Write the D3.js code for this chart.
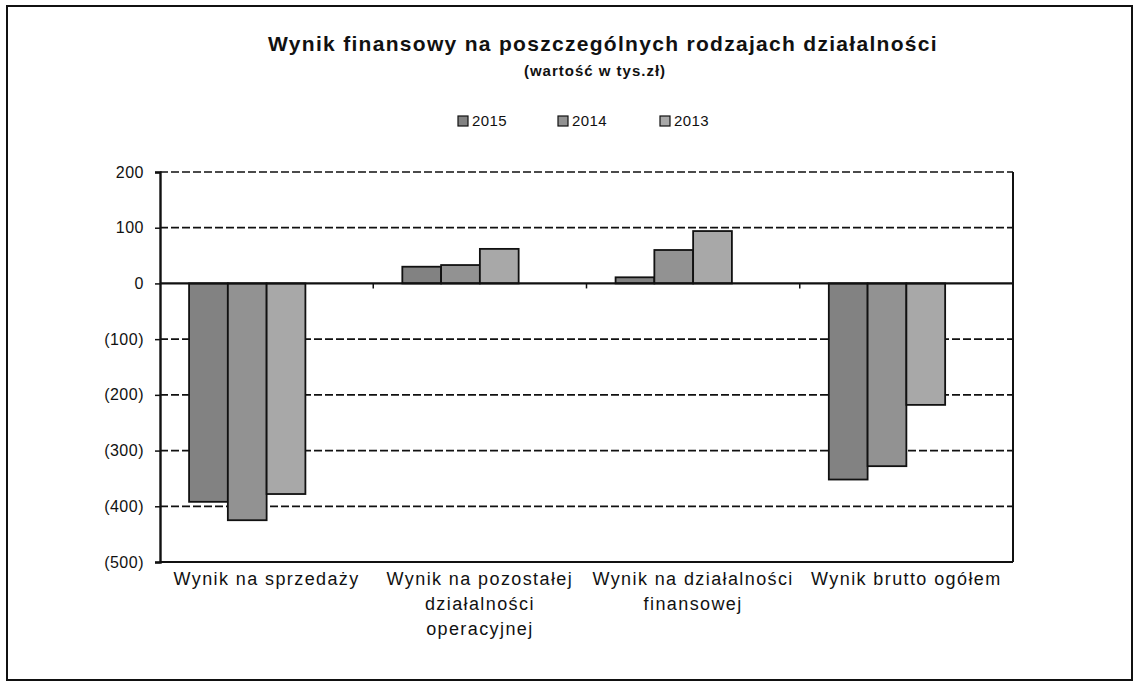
<!DOCTYPE html>
<html>
<head>
<meta charset="utf-8">
<script src="https://cdn.jsdelivr.net/npm/d3@7"></script>
<style>
  html, body { margin: 0; padding: 0; background: #fff; }
  svg { display: block; font-family: "Liberation Sans", Arial, sans-serif; }
</style>
</head>
<body>
<svg id="chart" width="1133" height="682"></svg>
<script>
// ---- data ----
const categories = [
  "Wynik na sprzedaży",
  "Wynik na pozostałej\ndziałalności\noperacyjnej",
  "Wynik na działalności\nfinansowej",
  "Wynik brutto ogółem"
];
const seriesNames = ["2015", "2014", "2013"];
const values2015 = [-392, 30, 11, -352];
const values2014 = [-425, 33, 60, -328];
const values2013 = [-378, 62, 94, -218];
const yTicks = [200, 100, 0, -100, -200, -300, -400, -500];
const titleText = "Wynik finansowy na poszczególnych rodzajach działalności";
const subtitleText = "(wartość w tys.zł)";

const seriesValues = [values2015, values2014, values2013];
const seriesColors = ["#828282", "#929292", "#a8a8a8"];

// ---- layout ----
const svg = d3.select("#chart");
const plot = { left: 160, right: 1013, top: 172, bottom: 562 };

// outer frame
svg.append("rect")
  .attr("x", 7).attr("y", 6).attr("width", 1125).attr("height", 674)
  .attr("fill", "none").attr("stroke", "#111").attr("stroke-width", 2);

// scales
const x0 = d3.scaleBand().domain(categories).range([plot.left, plot.right]).padding(0);
// four slots per category (the fourth series slot is empty in the original)
const x1 = d3.scaleBand().domain([0, 1, 2, 3]).range([0, x0.bandwidth()])
  .paddingInner(0).paddingOuter(0.75);
const y = d3.scaleLinear().domain([-500, 200]).range([plot.bottom, plot.top]);

// gridlines (dashed)
svg.append("g").selectAll("line")
  .data(yTicks.filter(v => v !== 0 && v !== -500))
  .join("line")
  .attr("x1", plot.left).attr("x2", plot.right)
  .attr("y1", d => y(d)).attr("y2", d => y(d))
  .attr("stroke", "#111").attr("stroke-width", 1.7)
  .attr("stroke-dasharray", "8,3");

// right and bottom border of plot area
svg.append("line").attr("x1", plot.right).attr("x2", plot.right)
  .attr("y1", plot.top).attr("y2", plot.bottom)
  .attr("stroke", "#111").attr("stroke-width", 2);
svg.append("line").attr("x1", plot.left).attr("x2", plot.right)
  .attr("y1", plot.bottom).attr("y2", plot.bottom)
  .attr("stroke", "#111").attr("stroke-width", 2);

// bars
const barData = [];
categories.forEach((c, ci) => {
  seriesValues.forEach((vals, si) => {
    barData.push({ cat: c, s: si, v: vals[ci] });
  });
});
svg.append("g").selectAll("rect")
  .data(barData)
  .join("rect")
  .attr("x", d => x0(d.cat) + x1(d.s))
  .attr("width", x1.bandwidth())
  .attr("y", d => y(Math.max(0, d.v)))
  .attr("height", d => Math.abs(y(d.v) - y(0)))
  .attr("fill", d => seriesColors[d.s])
  .attr("stroke", "#111").attr("stroke-width", 1.8);

// y axis
const yAxis = d3.axisLeft(y)
  .tickValues(yTicks)
  .tickSize(5)
  .tickPadding(11)
  .tickFormat(d => d < 0 ? "(" + Math.abs(d) + ")" : String(d));
const gy = svg.append("g").attr("transform", `translate(${plot.left},0)`).call(yAxis);
gy.select(".domain").attr("stroke", "#111").attr("stroke-width", 2.4);
gy.selectAll(".tick line").attr("stroke", "#111").attr("stroke-width", 1.5);
gy.selectAll(".tick text")
  .attr("font-size", 16).attr("fill", "#111")
  .attr("letter-spacing", 0.5)
  .attr("font-family", "'Liberation Sans', Arial, sans-serif");

// zero line (category axis)
svg.append("line").attr("x1", plot.left).attr("x2", plot.right)
  .attr("y1", y(0)).attr("y2", y(0))
  .attr("stroke", "#111").attr("stroke-width", 2.2);
// category tick marks at boundaries
svg.append("g").selectAll("line")
  .data(categories.slice(1))
  .join("line")
  .attr("x1", d => x0(d)).attr("x2", d => x0(d))
  .attr("y1", y(0)).attr("y2", y(0) + 5)
  .attr("stroke", "#111").attr("stroke-width", 1.5);

// category labels
const catLabels = svg.append("g");
categories.forEach(c => {
  const lines = c.split("\n");
  const t = catLabels.append("text")
    .attr("x", x0(c) + x0.bandwidth() / 2)
    .attr("y", 585)
    .attr("text-anchor", "middle")
    .attr("font-size", 18)
    .attr("letter-spacing", 1.4)
    .attr("fill", "#111");
  lines.forEach((ln, i) => {
    t.append("tspan")
      .attr("x", x0(c) + x0.bandwidth() / 2)
      .attr("dy", i === 0 ? 0 : 25)
      .text(ln);
  });
});

// title
svg.append("text")
  .attr("x", 603).attr("y", 51)
  .attr("text-anchor", "middle")
  .attr("font-size", 21).attr("font-weight", "bold")
  .attr("letter-spacing", 1.3)
  .attr("fill", "#111")
  .text(titleText);
svg.append("text")
  .attr("x", 595).attr("y", 76)
  .attr("text-anchor", "middle")
  .attr("font-size", 15).attr("font-weight", "bold")
  .attr("letter-spacing", 1)
  .attr("fill", "#111")
  .text(subtitleText);

// legend
const legendX = [458, 558, 660];
const legend = svg.append("g");
seriesNames.forEach((name, i) => {
  legend.append("rect")
    .attr("x", legendX[i]).attr("y", 116)
    .attr("width", 10).attr("height", 10)
    .attr("fill", seriesColors[i])
    .attr("stroke", "#111").attr("stroke-width", 1.2);
  legend.append("text")
    .attr("x", legendX[i] + 14).attr("y", 126)
    .attr("font-size", 15)
    .attr("letter-spacing", 0.4)
    .attr("fill", "#111")
    .text(name);
});
</script>
</body>
</html>
